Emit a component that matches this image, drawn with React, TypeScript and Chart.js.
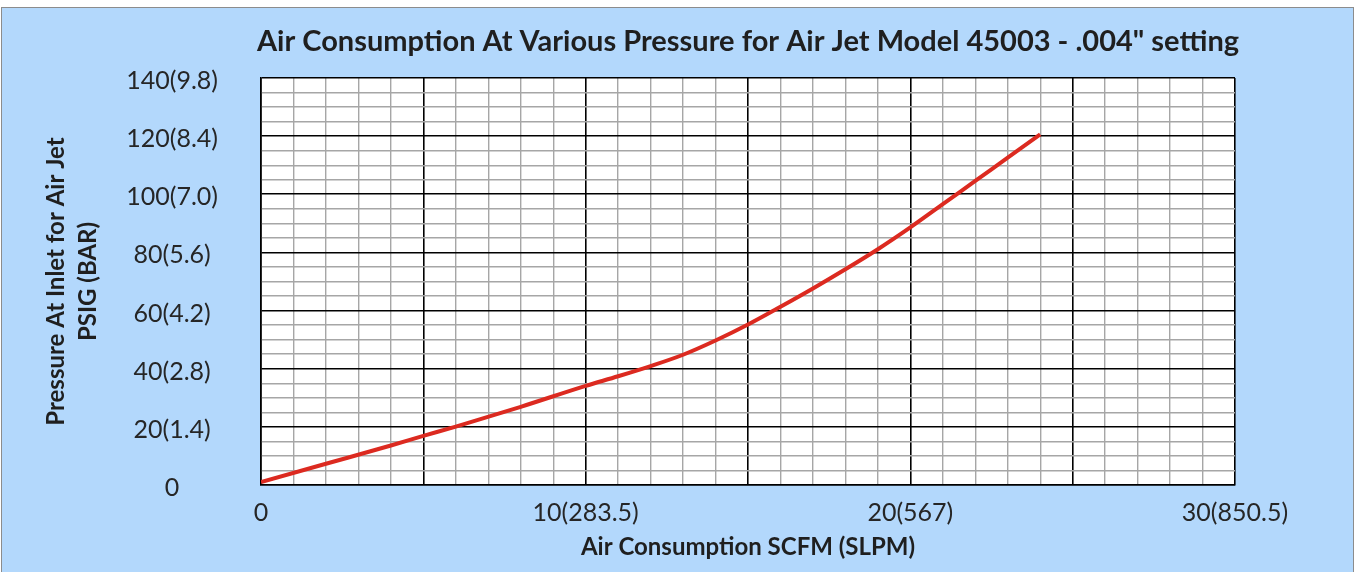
import React, { useEffect, useRef } from 'react';
import { Chart, registerables } from 'chart.js';

Chart.register(...registerables);

const chartTitle = 'Air Consumption At Various Pressure for Air Jet Model 45003 - .004" setting';
const xAxisTitle = 'Air Consumption SCFM (SLPM)';
const yAxisTitle = ['Pressure At Inlet for Air Jet', 'PSIG (BAR)'];

const scfmValues = [0, 2, 4, 5, 6, 8, 10, 11, 12, 13, 14, 15, 16, 17, 18, 19, 20, 21, 22, 23, 24];
const psigValues = [1, 7.3, 13.6, 16.9, 20.1, 26.9, 34.1, 37.4, 40.9, 44.8, 49.7, 55.2, 61.3, 67.6, 74.2, 81.1, 88.6, 96.6, 104.6, 112.6, 120.6];

const xTickValues = [0, 10, 20, 30];
const xTickLabels = ['0', '10(283.5)', '20(567)', '30(850.5)'];
const yTickValues = [0, 20, 40, 60, 80, 100, 120, 140];
const yTickLabels = ['0', '20(1.4)', '40(2.8)', '60(4.2)', '80(5.6)', '100(7.0)', '120(8.4)', '140(9.8)'];

const FONT = 'Lato, "Open Sans", sans-serif';

const backgroundPlugin = {
  id: 'bgPanel',
  beforeDraw(chart: any) {
    const { ctx, width, height, chartArea } = chart;
    ctx.save();
    ctx.fillStyle = '#ffffff';
    ctx.fillRect(0, 0, width, height);
    ctx.fillStyle = '#b3d8fc';
    ctx.fillRect(1, 7, width - 2, height - 7);
    ctx.strokeStyle = '#8c8c8c';
    ctx.lineWidth = 1;
    ctx.strokeRect(1.5, 7.5, width - 3, height - 6);
    ctx.fillStyle = '#ffffff';
    ctx.fillRect(chartArea.left, chartArea.top, chartArea.right - chartArea.left, chartArea.bottom - chartArea.top);
    ctx.restore();
  },
  afterDraw(chart: any) {
    const { ctx, chartArea } = chart;
    ctx.save();
    ctx.font = 'bold 29px ' + FONT;
    ctx.fillStyle = '#1f1f1f';
    ctx.textAlign = 'center';
    ctx.textBaseline = 'middle';
    ctx.fillText(chartTitle, (chartArea.left + chartArea.right) / 2, 42);
    ctx.restore();
  },
};

export default function App() {
  const canvasRef = useRef<HTMLCanvasElement | null>(null);

  useEffect(() => {
    if (!canvasRef.current) return;
    const chart = new Chart(canvasRef.current, {
      type: 'line',
      data: {
        datasets: [
          {
            label: 'Air consumption',
            data: scfmValues.map((x, i) => ({ x, y: psigValues[i] })),
            borderColor: '#dc2a20',
            borderWidth: 4,
            pointRadius: 0,
            cubicInterpolationMode: 'monotone',
            fill: false,
          },
        ],
      },
      options: {
        animation: false,
        responsive: false,
        maintainAspectRatio: false,
        layout: { padding: { top: 78, right: 120, bottom: 0, left: 0 } },
        plugins: {
          legend: { display: false },
          title: { display: false },
          tooltip: { enabled: false },
        },
        scales: {
          x: {
            type: 'linear',
            min: 0,
            max: 30,
            afterFit(scale: any) {
              scale.height = 87;
            },
            ticks: {
              stepSize: 1,
              autoSkip: false,
              maxRotation: 0,
              padding: 13,
              color: '#262626',
              font: { family: FONT, size: 25 },
              callback: (v: any) => {
                const i = xTickValues.indexOf(Number(v));
                return i >= 0 ? xTickLabels[i] : '';
              },
            },
            grid: {
              drawTicks: false,
              color: (c: any) => (c.tick && c.tick.value % 5 === 0 ? '#000000' : '#a6a6a6'),
              lineWidth: (c: any) => (c.tick && c.tick.value % 5 === 0 ? 1.6 : 1.4),
            },
            border: { color: '#000000', width: 1.6 },
            title: {
              display: true,
              text: xAxisTitle,
              color: '#1f1f1f',
              font: { family: FONT, size: 24, weight: 'bold' },
              padding: { top: 0, bottom: 10 },
            },
          },
          y: {
            type: 'linear',
            min: 0,
            max: 140,
            afterFit(scale: any) {
              scale.width = 261;
            },
            ticks: {
              stepSize: 5,
              autoSkip: false,
              padding: 43,
              labelOffset: 3,
              crossAlign: 'center',
              color: '#262626',
              font: { family: FONT, size: 25 },
              callback: (v: any) => {
                const i = yTickValues.indexOf(Number(v));
                return i >= 0 ? yTickLabels[i] : '';
              },
            },
            grid: {
              drawTicks: false,
              color: (c: any) => (c.tick && c.tick.value % 20 === 0 ? '#000000' : '#a6a6a6'),
              lineWidth: (c: any) => (c.tick && c.tick.value % 20 === 0 ? 1.6 : 1.4),
            },
            border: { color: '#000000', width: 1.6 },
            title: {
              display: true,
              text: yAxisTitle,
              color: '#1f1f1f',
              font: { family: FONT, size: 24, weight: 'bold', lineHeight: 1.3 },
              padding: { top: 41, bottom: 0 },
            },
          },
        },
      },
      plugins: [backgroundPlugin],
    } as any);
    return () => chart.destroy();
  }, []);

  return (
    <div style={{ position: 'absolute', left: 0, top: 0, width: 1355, height: 572 }}>
      <canvas ref={canvasRef} width={1355} height={572} style={{ display: 'block', width: 1355, height: 572 }} />
    </div>
  );
}
